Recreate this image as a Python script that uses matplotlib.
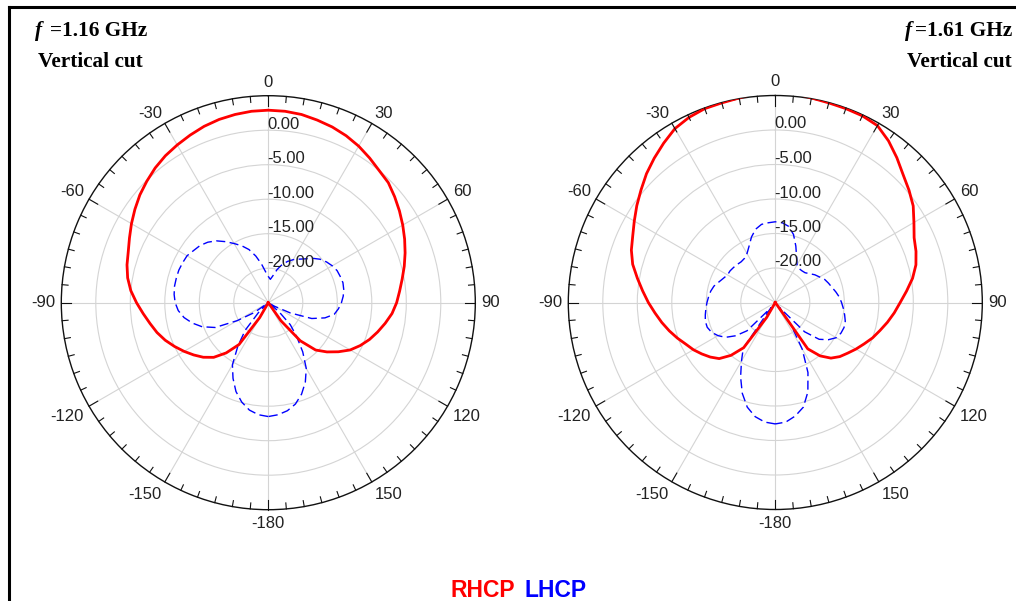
import numpy as np
import matplotlib.pyplot as plt
from matplotlib.lines import Line2D
from matplotlib.transforms import offset_copy

plt.rcParams['font.family'] = ['Liberation Sans', 'DejaVu Sans']

# angles of the cut, degrees (0 = zenith, clockwise positive)
angles_deg = np.arange(-180, 185, 5)

# f = 1.16 GHz, gain in dBic
rhcp_116 = [-25, -25, -25, -25, -25, -25, -22.5, -17.6, -15.5, -13.8,
            -12.7, -11.8, -10.9, -10.0, -9.1, -8.3, -7.6, -6.8, -5.9, -5.0,
            -4.3, -3.8, -3.4, -2.8, -2.1, -1.4, -0.7, -0.1, 0.5, 1.0,
            1.4, 1.8, 2.2, 2.5, 2.7, 2.85, 2.9, 2.85, 2.7, 2.4,
            2.1, 1.7, 1.2, 0.6, 0.0, -0.4, -1.1, -1.8, -2.5, -3.2,
            -3.9, -4.6, -5.3, -5.9, -6.4, -7.0, -7.8, -8.6, -9.4, -10.3,
            -11.3, -12.6, -13.9, -15.3, -17.8, -21.8, -25, -25, -25, -25,
            -25, -25, -25]
lhcp_116 = [-8.5, -8.7, -9.2, -10.1, -11.3, -12.9, -14.6, -17.3, -19.8, -23,
            -25, -22.5, -19.8, -16.5, -14.8, -13.6, -12.6, -11.9, -11.5, -11.3,
            -11.2, -11.2, -11.2, -11.3, -11.4, -11.8, -12.1, -12.6, -13.3, -14.2,
            -15.1, -15.9, -16.8, -18.0, -19.3, -20.5, -21.2, -21.6, -21.0, -20.0,
            -19.1, -18.4, -17.8, -17.3, -16.7, -15.9, -15.2, -14.7, -14.3, -14.0,
            -13.9, -13.8, -13.9, -14.1, -14.4, -14.8, -15.3, -16.5, -18.3, -21.5,
            -24, -25, -23, -20.5, -18.6, -16.3, -14.0, -12.3, -10.9, -9.8,
            -9.1, -8.7, -8.5]

# f = 1.61 GHz
rhcp_161 = [-25, -25, -25, -25, -25, -25, -22.5, -17.0, -15.0, -13.5,
            -12.7, -12.0, -11.3, -10.7, -9.9, -9.1, -8.3, -7.5, -6.6, -5.7,
            -4.7, -3.6, -2.8, -2.2, -1.4, -0.5, 0.4, 1.4, 2.3, 3.2,
            4.1, 4.6, 4.9, 4.95, 5.1, 5.5, 5.7, 5.5, 5.1, 4.95,
            4.9, 4.85, 4.6, 3.6, 2.4, 1.2, 0.3, -0.6, -1.8, -2.8,
            -3.3, -3.9, -4.8, -5.9, -6.9, -7.7, -8.5, -9.3, -10.0, -10.8,
            -11.5, -12.2, -12.8, -13.6, -14.9, -16.8, -25, -25, -25, -25,
            -25, -25, -25]
lhcp_161 = [-7.4, -7.6, -8.2, -9.3, -11.0, -13.1, -15.2, -16.9, -24, -19.2,
            -17.5, -16.2, -15.4, -14.8, -14.5, -14.5, -14.7, -14.9, -15.1, -15.3,
            -15.5, -15.8, -16.3, -16.7, -17.0, -17.0, -17.1, -17.2, -17.3, -17.2,
            -16.8, -16.0, -14.9, -14.0, -13.5, -13.4, -13.3, -13.4, -13.8, -14.8,
            -16.3, -17.7, -18.7, -19.0, -19.0, -18.9, -18.5, -18.0, -17.6, -17.1,
            -16.8, -16.5, -16.1, -15.7, -15.4, -15.1, -14.8, -14.5, -14.4, -14.5,
            -14.8, -15.6, -16.7, -19.0, -24, -21, -17.2, -13.8, -11.2, -9.3,
            -8.3, -7.6, -7.4]

theta_ticks = [0, 30, 60, 90, 120, 150, 180, 210, 240, 270, 300, 330]
theta_labels = ['0', '30', '60', '90', '120', '150', '-180', '-150',
                '-120', '-90', '-60', '-30']
r_ticks = [-20, -15, -10, -5, 0]
r_labels = ['-20.00', '-15.00', '-10.00', '-5.00', '0.00']
r_min, r_max = -25, 5

W, H = 1016, 601
RAD = 207  # outer circle radius in pixels
fig = plt.figure(figsize=(W / 100, H / 100), dpi=100)


def px_axes(cx, cy, rad):
    return [(cx - rad) / W, 1 - (cy + rad) / H, 2 * rad / W, 2 * rad / H]


def polar_panel(rect, rhcp, lhcp):
    ax = fig.add_axes(rect, projection='polar')
    ax.set_theta_zero_location('N')
    ax.set_theta_direction(-1)
    th = np.deg2rad(angles_deg)
    ax.plot(th, lhcp, color='#0000ff', lw=1.0, ls=(0, (6.5, 3.2)), zorder=3)
    ax.plot(th, rhcp, color='#ff0000', lw=2.0, zorder=4)
    ax.set_rlim(r_min, r_max)
    ax.set_yticks(r_ticks)
    ax.set_yticklabels([])
    ax.set_xticks(np.deg2rad(theta_ticks))
    ax.set_xticklabels([])
    ax.tick_params(axis='x', length=0)
    ax.grid(True, color='#d4d4d4', lw=0.8)
    ax.spines['polar'].set_color('#111111')
    ax.spines['polar'].set_linewidth(1.0)

    # inward tick marks every 5 deg, longer every 30 deg
    db_per_px = (r_max - r_min) / RAD
    for a in range(0, 360, 5):
        length = 10 if a % 30 == 0 else 6
        ax.plot([np.deg2rad(a)] * 2, [r_max, r_max - length * db_per_px],
                color='#111111', lw=0.8, clip_on=False, zorder=6)

    # angle labels anchored by the edge/corner facing the circle
    gap = 6
    for a, lab in zip(theta_ticks, theta_labels):
        ux, uy = np.sin(np.deg2rad(a)), np.cos(np.deg2rad(a))
        ha = 'center' if abs(ux) < 0.1 else ('left' if ux > 0 else 'right')
        va = 'center' if abs(uy) < 0.1 else ('bottom' if uy > 0 else 'top')
        dx, dy = gap * ux, gap * uy
        if va == 'bottom' and ha != 'center':
            dy -= 3
        ax.text(np.deg2rad(a), r_max, lab, ha=ha, va=va, fontsize=12,
                color='#222222', clip_on=False,
                transform=offset_copy(ax.transData, fig=fig, x=dx, y=dy,
                                      units='dots'))

    rtrans = offset_copy(ax.transData, fig=fig, x=-1, y=1.5, units='dots')
    for r, lab in zip(r_ticks, r_labels):
        ax.text(0, r, lab, ha='left', va='baseline', fontsize=12,
                color='#222222', zorder=5, transform=rtrans)
    return ax


polar_panel(px_axes(268.3, 302.7, RAD), rhcp_116, lhcp_116)
polar_panel(px_axes(775.3, 302.5, RAD), rhcp_161, lhcp_161)

# frame
fig.add_artist(Line2D([9 / W, 1], [1 - 7 / H, 1 - 7 / H], color='black', lw=2.2))
fig.add_artist(Line2D([9 / W, 9 / W], [0, 1 - 7 / H], color='black', lw=2.2))

# titles
serif = dict(family='Liberation Serif', weight='bold', size=15.3, va='baseline')
fig.text(35 / W, 1 - 36 / H, 'f', style='italic', **serif)
fig.text(50 / W, 1 - 36 / H, '=1.16 GHz', **serif)
fig.text(38 / W, 1 - 67 / H, 'Vertical cut', **serif)
fig.text(905 / W, 1 - 36 / H, 'f', style='italic', **serif)
fig.text(1012 / W, 1 - 36 / H, '=1.61 GHz', ha='right', **serif)
fig.text(1012 / W, 1 - 67 / H, 'Vertical cut', ha='right', **serif)

# legend text
leg = dict(family='Liberation Sans', weight='bold', size=16.5, va='baseline')
fig.text(515 / W, 1 - 597 / H, 'RHCP', color='#ff0000', ha='right', **leg)
fig.text(524 / W, 1 - 597 / H, 'LHCP', color='#0000ff', ha='left', **leg)

fig.savefig('out.png', dpi=100)
